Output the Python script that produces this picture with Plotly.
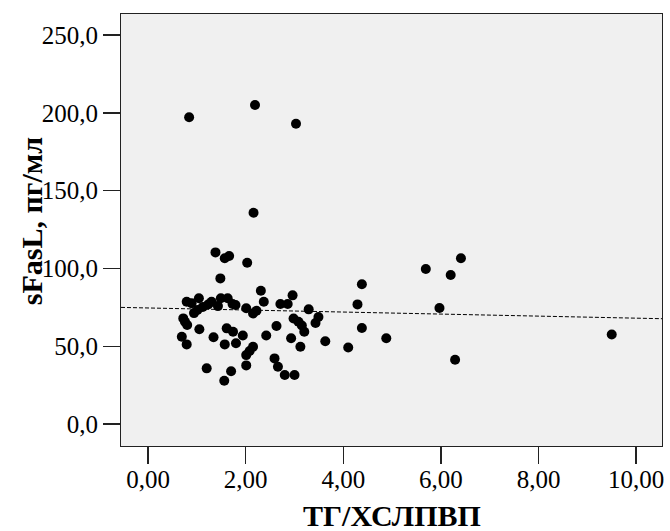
import plotly.graph_objects as go

# ТГ/ХСЛПВП values (x) and sFasL, пг/мл values (y)
tg_hdl = [0.84, 2.19, 3.03, 2.16, 1.38, 1.57, 1.66, 2.03, 1.48, 2.31,
          2.96, 0.79, 0.89, 1.04, 0.94, 1.01, 1.12, 1.23, 1.30, 1.49,
          1.63, 1.43, 1.73, 1.79, 2.01, 2.15, 2.22, 2.37, 2.71, 2.86,
          3.29, 0.72, 0.755, 0.80, 1.05, 0.69, 0.79, 1.61, 1.74, 1.94,
          1.34, 2.42, 2.63, 2.98, 3.08, 3.15, 3.20, 3.49, 3.43, 2.93,
          3.63, 1.57, 1.80, 2.15, 2.08, 2.01, 2.01, 1.20, 1.70, 1.56,
          2.59, 2.66, 2.80, 3.00, 3.12, 4.10, 4.38, 4.29, 4.38, 4.88,
          5.69, 6.41, 6.20, 5.97, 6.29, 9.50]
sfasl = [197.1, 205.0, 193.0, 135.8, 110.3, 106.5, 108.0, 103.7, 93.6, 85.7,
         82.7, 78.6, 77.6, 80.8, 71.3, 73.3, 75.2, 76.8, 78.6, 80.8,
         80.8, 75.8, 77.1, 76.5, 74.4, 71.1, 72.8, 78.6, 77.1, 77.1,
         73.7, 67.9, 65.7, 63.6, 60.9, 56.1, 51.2, 61.5, 59.3, 56.9,
         55.8, 56.9, 63.0, 67.8, 65.7, 63.3, 59.3, 68.8, 64.9, 55.1,
         53.2, 51.2, 51.9, 49.7, 46.9, 44.3, 37.7, 35.8, 33.9, 27.8,
         42.2, 36.8, 31.5, 31.5, 49.7, 49.2, 89.8, 76.9, 61.7, 55.1,
         99.6, 106.5, 95.8, 74.6, 41.3, 57.6]

# linear fit line
fit_intercept = 74.6
fit_slope = -0.655

x_ticks = [0, 2, 4, 6, 8, 10]
y_ticks = [0, 50, 100, 150, 200, 250]
x_title = "ТГ/ХСЛПВП"
y_title = "sFasL, пг/мл"

x_range = [-0.556, 10.53]
y_range = [-14.1, 263.5]

font_family = "Liberation Serif"

fig = go.Figure()
fig.add_trace(go.Scatter(
    x=tg_hdl, y=sfasl, mode="markers",
    marker=dict(color="black", size=10, line=dict(width=0)),
    showlegend=False, hoverinfo="skip"))
fig.add_trace(go.Scatter(
    x=x_range, y=[fit_intercept + fit_slope * v for v in x_range],
    mode="lines", line=dict(color="black", width=1, dash="4px,2px"),
    showlegend=False, hoverinfo="skip"))

axis_common = dict(
    showgrid=False, zeroline=False, showline=True, mirror=True,
    linecolor="#222", linewidth=1, ticks="outside", ticklen=17,
    tickcolor="#222", tickwidth=1.5,
    tickfont=dict(family=font_family, size=25, color="black"),
)

fig.update_layout(
    width=670, height=531,
    margin=dict(l=121, r=6, t=14, b=85),
    paper_bgcolor="white", plot_bgcolor="#F0F0F0",
    separators=", ",
    xaxis=dict(range=x_range, tickvals=x_ticks, tickformat=".2f",
               ticklabelstandoff=-6, **axis_common),
    yaxis=dict(range=y_range, tickvals=y_ticks, tickformat=".1f", **axis_common),
    annotations=[
        dict(text="<b>%s</b>" % x_title, xref="paper", yref="paper",
             x=0.5, y=-0.16, xanchor="center", yanchor="middle",
             showarrow=False, font=dict(family=font_family, size=30, color="black")),
        dict(text="<b>%s</b>" % y_title, xref="paper", yref="paper",
             x=-0.164, y=0.521, xanchor="center", yanchor="middle", textangle=-90,
             showarrow=False, font=dict(family=font_family, size=30, color="black")),
    ],
)

fig.write_html("out.html",
               config={"displayModeBar": False, "staticPlot": True},
               post_script="document.body.style.margin='0';document.body.style.overflow='hidden';")
